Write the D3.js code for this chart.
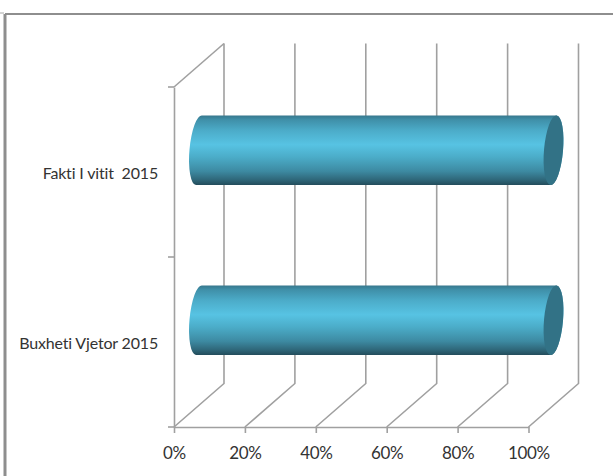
<!DOCTYPE html>
<html>
<head>
<meta charset="utf-8">
<script src="https://cdn.jsdelivr.net/npm/d3@7"></script>
<style>
html, body { margin: 0; padding: 0; background: #fff; overflow: hidden; }
text { font-family: Lato, sans-serif; font-size: 16px; fill: #333; white-space: pre; letter-spacing: -0.17px; }
.xt text { font-size: 17px; letter-spacing: -0.35px; }
</style>
</head>
<body>
<div id="vis"></div>
<script>
var categories = ["Fakti I vitit  2015", "Buxheti Vjetor 2015"];
var values = [100, 100];
var tickValues = [0, 20, 40, 60, 80, 100];

var width = 613;
var height = 476;
var grey = "#a0a0a0";

// chart floor, the back wall sits one depth behind it
var left = 174, right = 528.5, bottom = 427, top_ = 87;
var depth = { x: 50, y: -43.5 };

var svg = d3.select("#vis")
    .append("svg")
    .attr("width", width)
    .attr("height", height)
    .style("display", "block");

var x_scale = d3.scaleLinear().domain([0, 100]).range([left, right]);
var y_scale = d3.scaleBand().domain(categories).range([top_, bottom]);

var barHeight = y_scale.bandwidth() * 0.41;
var rx = 9.5, tilt = 5;

var defs = svg.append("defs");
var grad = defs.append("linearGradient")
    .attr("id", "cyl")
    .attr("x1", 0).attr("x2", 0).attr("y1", 0).attr("y2", 1);
[[0, "#37778c"], [0.06, "#3f8fa8"], [0.22, "#4cacc9"], [0.42, "#57c3e3"], [0.6, "#4bacc8"], [0.8, "#3d8aa2"], [0.93, "#2e6577"], [1, "#234c5b"]]
    .forEach(function(s) {
        grad.append("stop").attr("offset", s[0]).attr("stop-color", s[1]);
    });

// outer frame
svg.append("path")
    .attr("d", "M5,476V14")
    .attr("stroke", "#8e8e8e")
    .attr("stroke-width", 3);
svg.append("path")
    .attr("d", "M5,14H613")
    .attr("stroke", "#8e8e8e")
    .attr("stroke-width", 2);
svg.append("path")
    .attr("d", "M0,13H4")
    .attr("stroke", "#aaa")
    .attr("stroke-width", 1);

// gridlines on the wall and the floor
svg.selectAll(".grid")
    .data(tickValues)
    .enter()
    .append("path")
    .attr("class", "grid")
    .attr("fill", "none")
    .attr("stroke", grey)
    .attr("stroke-width", 1.6)
    .attr("d", function(d) {
        var x = x_scale(d);
        return "M" + x + "," + bottom + "L" + (x + depth.x) + "," + (bottom + depth.y) + "V" + (top_ + depth.y);
    });

svg.append("path")
    .attr("fill", "none")
    .attr("stroke", grey)
    .attr("stroke-width", 1.6)
    .attr("d", "M" + left + "," + top_ + "L" + (left + depth.x) + "," + (top_ + depth.y));

// axes
var x_axis = d3.axisBottom(x_scale)
    .tickValues(tickValues)
    .tickSize(6)
    .tickPadding(14)
    .tickSizeOuter(0)
    .tickFormat(function(d) { return d + "%"; });

var y_axis = d3.axisLeft(y_scale)
    .tickSize(0)
    .tickPadding(16);

var gx = svg.append("g").attr("class", "xt").attr("transform", "translate(0," + bottom + ")").call(x_axis);
var gy = svg.append("g").attr("transform", "translate(" + left + ",0)").call(y_axis);

gy.selectAll("text").attr("dy", "0.42em");

svg.selectAll(".domain").attr("stroke", grey).attr("stroke-width", 1.6);
gx.selectAll("line").attr("stroke", grey).attr("stroke-width", 1.6);

// category ticks sit on the band edges
var edges = categories.map(function(c) { return y_scale(c); }).concat([bottom]);
gy.selectAll(".edge")
    .data(edges)
    .enter()
    .append("line")
    .attr("class", "edge")
    .attr("x1", -6)
    .attr("x2", 0)
    .attr("y1", function(d) { return d; })
    .attr("y2", function(d) { return d; })
    .attr("stroke", grey)
    .attr("stroke-width", 1.6);

// cylinders, half a depth back from the floor
var shift = tilt * Math.PI / 180;
var lean = barHeight / 2 * Math.tan(shift);

var bars = svg.selectAll(".bar")
    .data(categories)
    .enter()
    .append("g")
    .attr("class", "bar");

bars.append("path")
    .attr("fill", "url(#cyl)")
    .attr("d", function(d, i) {
        var x0 = x_scale(0) + depth.x / 2;
        var x1 = x_scale(values[i]) + depth.x / 2;
        var y0 = y_scale(d) + y_scale.bandwidth() / 2 + depth.y / 2 - barHeight / 2;
        var y1 = y0 + barHeight;
        var arc = "A" + rx + "," + (barHeight / 2) + " " + tilt + " 0 1 ";
        return "M" + (x0 + lean) + "," + y0 +
            "L" + (x1 + lean) + "," + y0 +
            arc + (x1 - lean) + "," + y1 +
            "L" + (x0 - lean) + "," + y1 +
            arc + (x0 + lean) + "," + y0 + "Z";
    });

bars.append("ellipse")
    .attr("fill", "#327286")
    .attr("rx", rx)
    .attr("ry", barHeight / 2)
    .attr("transform", function(d, i) {
        var cx = x_scale(values[i]) + depth.x / 2;
        var cy = y_scale(d) + y_scale.bandwidth() / 2 + depth.y / 2;
        return "translate(" + cx + "," + cy + ") rotate(" + tilt + ")";
    });
</script>
</body>
</html>
